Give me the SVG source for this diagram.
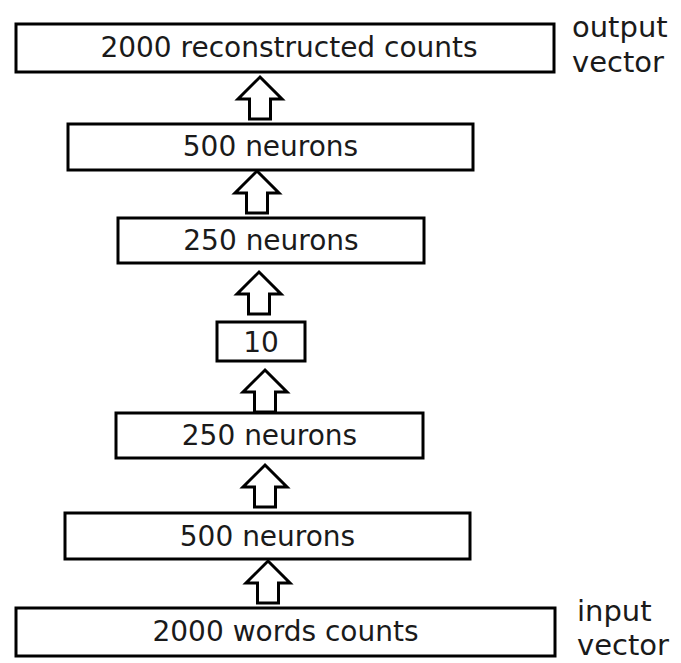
<svg xmlns="http://www.w3.org/2000/svg" xmlns:xlink="http://www.w3.org/1999/xlink" width="681" height="663" viewBox="0 0 681 663">
<style>
.box{fill:#fff;stroke:#000;stroke-width:3}
.lbl{font-family:"DejaVu Sans",sans-serif;font-size:28px;fill:#1a1a1a;text-anchor:middle}
.side{font-family:"DejaVu Sans",sans-serif;font-size:29px;fill:#1a1a1a}
.arr{fill:#fff;stroke:#000;stroke-width:3;stroke-linejoin:miter}
</style>
<defs>
<path id="up" d="M0,0 L22,22 L10.5,22 L10.5,42 L-10.5,42 L-10.5,22 L-22,22 Z"/>
</defs>
<rect width="681" height="663" fill="#fff"/>
<g id="connectors">
<use xlink:href="#up" class="arr" x="260" y="77"/>
<use xlink:href="#up" class="arr" x="257" y="171"/>
<use xlink:href="#up" class="arr" x="259" y="272"/>
<use xlink:href="#up" class="arr" x="265" y="370"/>
<use xlink:href="#up" class="arr" x="265" y="465"/>
<use xlink:href="#up" class="arr" x="268" y="561"/>
</g>
<g id="output">
<rect class="box" x="16" y="24" width="538" height="48"/>
<text class="lbl" x="289" y="57">2000 reconstructed counts</text>
</g>
<g id="dec500">
<rect class="box" x="68" y="124" width="405" height="46"/>
<text class="lbl" x="270.5" y="156">500 neurons</text>
</g>
<g id="dec250">
<rect class="box" x="118" y="218" width="306" height="45"/>
<text class="lbl" x="271" y="250">250 neurons</text>
</g>
<g id="code10">
<rect class="box" x="217" y="322" width="88" height="39"/>
<text class="lbl" x="261" y="352">10</text>
</g>
<g id="enc250">
<rect class="box" x="116" y="413" width="307" height="45"/>
<text class="lbl" x="269.5" y="445">250 neurons</text>
</g>
<g id="enc500">
<rect class="box" x="65" y="513" width="405" height="46"/>
<text class="lbl" x="267.5" y="546">500 neurons</text>
</g>
<g id="input">
<rect class="box" x="16" y="608" width="539" height="48"/>
<text class="lbl" x="285.5" y="641">2000 words counts</text>
</g>
<g id="side-labels">
<text class="side" x="572" y="37">output</text>
<text class="side" x="572" y="72">vector</text>
<text class="side" x="577" y="621">input</text>
<text class="side" x="577" y="655">vector</text>
</g>
</svg>
